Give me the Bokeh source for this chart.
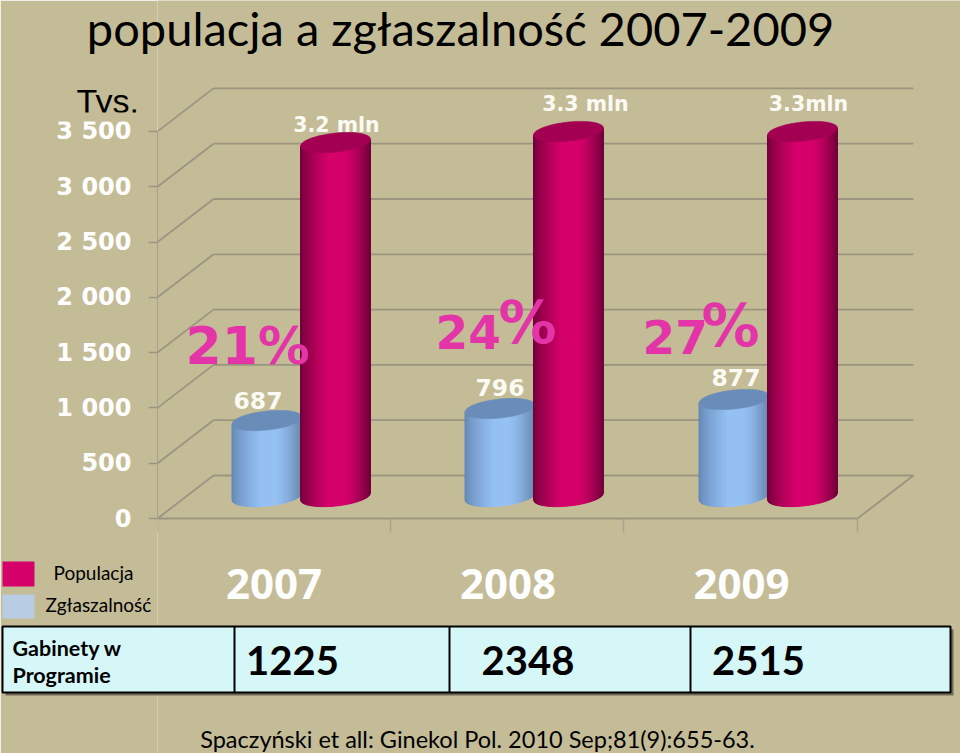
from bokeh.plotting import figure
from bokeh.models import Range1d, Label, BoxAnnotation, FixedTicker
from bokeh.embed import file_html
from bokeh.resources import INLINE
import math

# ---------- data ----------
years = ["2007", "2008", "2009"]
populacja = [3200, 3300, 3300]
zglaszalnosc = [687, 796, 877]
populacja_labels = ["3.2 mln", "3.3 mln", "3.3mln"]
zglaszalnosc_labels = ["687", "796", "877"]
percent_numbers = ["21", "24", "27"]
gabinety = ["1225", "2348", "2515"]
y_ticks = [0, 500, 1000, 1500, 2000, 2500, 3000, 3500]
y_tick_labels = ["0", "500", "1 000", "1 500", "2 000", "2 500", "3 000", "3 500"]
title_text = "populacja a zgłaszalność 2007-2009"
source_text = "Spaczyński et all: Ginekol Pol. 2010 Sep;81(9):655-63."

# ---------- styling constants ----------
BG = "#c4bc97"
GRID = "#9b9580"
PXV = 0.1106          # pixels per value unit
Y0 = 518              # canvas y of value 0 on the front plane
DX, DY = 56, 43       # depth offset of the back wall
W, H = 960, 753
LEFT = 157
PIN = {"position": "absolute", "left": "0px", "top": "0px"}

p = figure(width=W, height=H, output_backend="svg", toolbar_location=None,
           x_range=Range1d(LEFT, W),
           y_range=Range1d((Y0 - H) / PXV, Y0 / PXV),
           min_border_left=LEFT, min_border_right=0, min_border_top=0, min_border_bottom=0,
           background_fill_color=BG, border_fill_color=BG, outline_line_color=None,
           x_axis_location=None)
p.styles = PIN
p.grid.visible = False

ax = p.yaxis[0]
ax.ticker = FixedTicker(ticks=y_ticks)
ax.major_label_overrides = {t: s for t, s in zip(y_ticks, y_tick_labels)}
ax.major_label_text_color = "white"
ax.major_label_text_font = "DejaVu Sans"
ax.major_label_text_font_style = "bold"
ax.major_label_text_font_size = "24px"
ax.major_label_standoff = 17
ax.major_tick_in = 0
ax.major_tick_out = 9
ax.minor_tick_line_color = None
ax.major_tick_line_color = GRID
ax.major_tick_line_width = 1.5
ax.axis_line_color = "#a8a28c"
ax.axis_line_width = 1
ax.bounds = (0, 3500)

# ---------- 3-D wall and floor ----------
dv = DY / PXV
RIGHT = 857
p.segment(x0=[LEFT + DX] * len(y_ticks), x1=[RIGHT + DX] * len(y_ticks),
          y0=[t + dv for t in y_ticks], y1=[t + dv for t in y_ticks],
          line_color=GRID, line_width=1.8)
p.segment(x0=[LEFT] * len(y_ticks), x1=[LEFT + DX] * len(y_ticks),
          y0=y_ticks, y1=[t + dv for t in y_ticks], line_color=GRID, line_width=1.8)
p.segment(x0=[LEFT, RIGHT], x1=[RIGHT, RIGHT + DX], y0=[0, 0], y1=[0, dv],
          line_color=GRID, line_width=1.8)
cat_x = [LEFT, 390, 623, RIGHT]
p.segment(x0=cat_x, x1=cat_x, y0=[0] * 4, y1=[-14 / PXV] * 4, line_color="#aaa48e", line_width=1.5)


# ---------- cylinders ----------
def lerp(a, b, t):
    return tuple(a[i] + (b[i] - a[i]) * t for i in range(3))


def to_hex(c):
    return "#%02x%02x%02x" % tuple(int(round(v)) for v in c)


RED = dict(edge_l=(108, 0, 56), mid=(214, 0, 106), edge_r=(112, 0, 58), top=(163, 0, 82))
BLUE = dict(edge_l=(98, 132, 176), mid=(148, 192, 244), edge_r=(104, 134, 172), top=(106, 140, 184))
A = 35.0      # half width of a cylinder, px
B = 9.5       # half height of its ellipse, px
S = 3.5       # rise of the ellipse from its centre to its right end, px
BASE = DY / 2 + 0.5   # how far up the floor the cylinders stand, px
STRIPS = 70


def arc(u):
    return B * math.sqrt(max(0.0, 1 - u * u))


def shade(scheme, t):
    if t < 0.42:
        return lerp(scheme["edge_l"], scheme["mid"], min(1, (t / 0.42) ** 0.7))
    if t > 0.62:
        return lerp(scheme["mid"], scheme["edge_r"], ((t - 0.62) / 0.38) ** 1.5)
    return scheme["mid"]


def cylinder(cx, value, scheme):
    base = BASE / PXV
    top = base + value
    xs, ys, cols = [], [], []
    for i in range(STRIPS):
        u0 = -1 + 2 * i / STRIPS
        u1 = -1 + 2 * (i + 1) / STRIPS
        x0, x1 = cx + A * u0, cx + A * u1
        ys.append([top + (S * u0 - arc(u0)) / PXV, top + (S * u1 - arc(u1)) / PXV,
                   base + (S * u1 - arc(u1)) / PXV, base + (S * u0 - arc(u0)) / PXV])
        xs.append([x0, x1, x1, x0])
        cols.append(to_hex(shade(scheme, (i + 0.5) / STRIPS)))
    p.patches(xs, ys, fill_color=cols, line_color=cols, line_width=1)
    ex, ey = [], []
    n = 60
    for k in range(n):
        th = 2 * math.pi * k / n
        u = math.cos(th)
        ex.append(cx + A * u)
        ey.append(top + (S * u + B * math.sin(th)) / PXV)
    p.patch(ex, ey, fill_color=to_hex(scheme["top"]), line_color=to_hex(scheme["top"]), line_width=0.6)


blue_cx = [266.5, 499.5, 733.5]
red_cx = [335, 568, 802]
for cx, v in zip(blue_cx, zglaszalnosc):
    cylinder(cx, v, BLUE)
for cx, v in zip(red_cx, populacja):
    cylinder(cx, v, RED)

# ---------- overlay: texts, legend and table on the whole canvas ----------
q = figure(width=W, height=H, output_backend="svg", toolbar_location=None,
           x_range=Range1d(0, W), y_range=Range1d(H, 0),
           min_border=0, background_fill_alpha=0, border_fill_alpha=0, outline_line_color=None,
           x_axis_location=None, y_axis_location=None)
q.styles = PIN
q.grid.visible = False


def label(x, y, text, size, color="black", font="Lato", style="normal", align="left", alpha=1.0):
    q.add_layout(Label(x=x, y=y, text=text, text_font=font, text_font_size=f"{size}px",
                       text_font_style=style, text_color=color, text_align=align, text_baseline="middle",
                       text_alpha=alpha, border_line_color=None, background_fill_color=None))


def box(l, r, t, b, color, line=None, line_width=0):
    q.add_layout(BoxAnnotation(left=l, right=r, top=t, bottom=b, fill_color=color, fill_alpha=1,
                               line_color=line, line_width=line_width, line_alpha=1 if line else 0,
                               level="annotation", editable=False))


label(460, 27, title_text, 47, align="center")
label(477, 738, source_text, 23.5, align="center")

# "Tys." is cut by the tick-label picture in the reference
label(76, 100, "Tys.", 34, font="Liberation Sans")
box(60, 150, 121, 112, BG)

# value labels
for x, y, s in zip([336, 585, 808], [124, 103, 103], populacja_labels):
    label(x, y, s, 20.5, color="#fbfaf3", font="DejaVu Sans", style="bold", align="center")
for x, y, s in zip([257.5, 499.5, 735.5], [400, 387, 377], zglaszalnosc_labels):
    label(x, y, s, 23.5, color="#fbfaf3", font="DejaVu Sans", style="bold", align="center")

# percentages
PINK = "#e335a8"
label(185, 345, percent_numbers[0] + "%", 52, color=PINK, font="DejaVu Sans", style="bold")
for x, xp, y, yp, s in zip([435, 642], [498, 701], [331, 336], [322, 325], percent_numbers[1:]):
    label(x, y, s, 47, color=PINK, font="DejaVu Sans", style="bold")
    label(xp, yp, "%", 58, color=PINK, font="DejaVu Sans", style="bold")

# years
for x, s in zip([273.5, 507.5, 741], years):
    label(x, 583, s, 42, color="white", font="Open Sans", style="bold", align="center")

# legend
box(2, 34, 586, 561, "#d6006a")
box(2, 34, 618, 594, "#b8cce4")
label(53, 572, "Populacja", 19)
label(45, 604, "Zgłaszalność", 19)

# table
box(5, 953, 695, 629, "#6e6a58")
box(2, 950, 692, 626, "#d6f7f8", line="black", line_width=2)
for x in [234, 449, 690]:
    box(x - 1, x + 1, 692, 626, "black")
label(12, 647, "Gabinety w", 21.5, style="bold")
label(12, 674, "Programie", 21.5, style="bold")
for x, s in zip([292, 527.5, 758], gabinety):
    label(x, 660, s, 40, style="bold", align="center")

open("out.html", "w").write(file_html([p, q], INLINE))
